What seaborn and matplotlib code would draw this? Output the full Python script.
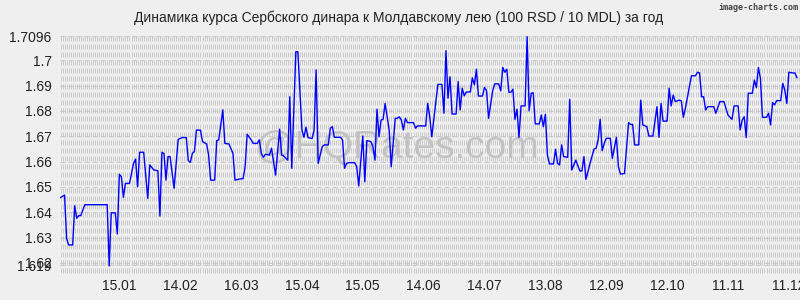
import numpy as np
import pandas as pd
import matplotlib
matplotlib.use("Agg")
import matplotlib.pyplot as plt
import matplotlib.dates as mdates
import seaborn as sns

# ---------------- data ----------------
title = "Динамика курса Сербского динара к Молдавскому лею (100 RSD / 10 MDL) за год"
start_date = "2022-12-17"
day_offsets = [
    0, 2, 3, 4, 6, 7, 8, 9, 10, 12, 23, 24, 25, 27, 28, 29, 30, 31, 32, 34,
    36, 37, 38, 39, 41, 43, 44, 46, 48, 49, 50, 51, 52, 53, 54, 56, 58, 60, 62, 63,
    64, 65, 66, 67, 69, 70, 72, 73, 74, 76, 77, 78, 80, 81, 83, 85, 86, 88, 90, 91,
    92, 94, 95, 97, 98, 99, 100, 101, 103, 104, 105, 106, 108, 109, 110, 112, 113, 114, 116, 117,
    119, 120, 121, 122, 124, 125, 126, 127, 129, 130, 132, 133, 134, 135, 138, 139, 140, 141, 142, 145,
    146, 147, 148, 149, 150, 151, 153, 154, 155, 156, 157, 158, 159, 160, 162, 163, 165, 166, 167, 168,
    169, 170, 171, 174, 175, 176, 180, 181, 182, 183, 186, 188, 189, 190, 191, 192, 193, 195, 196, 197,
    198, 199, 200, 202, 203, 204, 205, 206, 208, 209, 210, 211, 213, 214, 216, 217, 218, 219, 220, 221,
    222, 223, 224, 225, 226, 227, 229, 230, 231, 232, 233, 234, 236, 237, 238, 239, 240, 241, 243, 244,
    245, 246, 247, 248, 250, 251, 252, 253, 254, 256, 257, 258, 259, 261, 263, 264, 265, 266, 267, 268,
    269, 271, 272, 274, 275, 276, 278, 280, 281, 282, 283, 285, 286, 287, 289, 290, 292, 294, 295, 296,
    297, 299, 300, 301, 302, 303, 305, 306, 307, 308, 311, 313, 314, 315, 316, 317, 318, 319, 322, 323,
    325, 327, 328, 329, 331, 332, 334, 335, 336, 337, 338, 339, 341, 342, 343, 344, 345, 346, 348, 349,
    350, 351, 352, 353, 355, 356, 357, 358, 359, 361, 362, 363,
]
rates = [
    1.6458, 1.6468, 1.6297, 1.6271, 1.6271, 1.6426, 1.6376, 1.6387, 1.6387, 1.6430,
    1.6430, 1.6188, 1.6398, 1.6398, 1.6314, 1.6550, 1.6540, 1.6459, 1.6514, 1.6514,
    1.6593, 1.6610, 1.6501, 1.6637, 1.6637, 1.6455, 1.6587, 1.6567, 1.6564, 1.6385,
    1.6637, 1.6632, 1.6527, 1.6620, 1.6620, 1.6495, 1.6688, 1.6695, 1.6695, 1.6604,
    1.6597, 1.6633, 1.6640, 1.6725, 1.6724, 1.6679, 1.6670, 1.6626, 1.6527, 1.6527,
    1.6683, 1.6686, 1.6804, 1.6672, 1.6670, 1.6633, 1.6527, 1.6531, 1.6533, 1.6580,
    1.6708, 1.6686, 1.6672, 1.6672, 1.6686, 1.6633, 1.6617, 1.6629, 1.6626, 1.6653,
    1.6600, 1.6547, 1.6728, 1.6626, 1.6622, 1.6606, 1.6856, 1.6574, 1.7034, 1.7034,
    1.6725, 1.6696, 1.6736, 1.6695, 1.6691, 1.6725, 1.6962, 1.6593, 1.6659, 1.6666,
    1.6666, 1.6732, 1.6738, 1.6696, 1.6696, 1.6686, 1.6574, 1.6593, 1.6596, 1.6596,
    1.6580, 1.6504, 1.6600, 1.6701, 1.6521, 1.6683, 1.6679, 1.6659, 1.6606, 1.6807,
    1.6698, 1.6764, 1.6767, 1.6830, 1.6725, 1.6580, 1.6771, 1.6771, 1.6777, 1.6764,
    1.6725, 1.6771, 1.6754, 1.6754, 1.6732, 1.6741, 1.6741, 1.6830, 1.6777, 1.6698,
    1.6905, 1.6905, 1.6791, 1.7038, 1.6850, 1.6935, 1.6788, 1.6788, 1.6916, 1.6804,
    1.6890, 1.6860, 1.6875, 1.6875, 1.6931, 1.6903, 1.6965, 1.6859, 1.6859, 1.6893,
    1.6880, 1.6771, 1.6879, 1.6907, 1.6907, 1.6879, 1.6972, 1.6953, 1.6965, 1.6874,
    1.6874, 1.6886, 1.6767, 1.6807, 1.6696, 1.6820, 1.6820, 1.7093, 1.6801, 1.6870,
    1.6872, 1.6749, 1.6749, 1.6784, 1.6738, 1.6787, 1.6626, 1.6591, 1.6591, 1.6649,
    1.6593, 1.6587, 1.6666, 1.6620, 1.6617, 1.6846, 1.6567, 1.6587, 1.6606, 1.6563,
    1.6563, 1.6620, 1.6530, 1.6593, 1.6650, 1.6653, 1.6686, 1.6767, 1.6643, 1.6672,
    1.6692, 1.6692, 1.6613, 1.6696, 1.6580, 1.6551, 1.6553, 1.6754, 1.6747, 1.6747,
    1.6666, 1.6666, 1.6843, 1.6745, 1.6738, 1.6701, 1.6701, 1.6817, 1.6696, 1.6830,
    1.6760, 1.6760, 1.6890, 1.6820, 1.6863, 1.6837, 1.6843, 1.6840, 1.6775, 1.6811,
    1.6939, 1.6939, 1.6953, 1.6950, 1.6856, 1.6856, 1.6804, 1.6817, 1.6817, 1.6791,
    1.6837, 1.6837, 1.6811, 1.6784, 1.6767, 1.6820, 1.6820, 1.6725, 1.6764, 1.6777,
    1.6695, 1.6870, 1.6870, 1.6922, 1.6892, 1.6972, 1.6929, 1.6775, 1.6775, 1.6791,
    1.6745, 1.6833, 1.6824, 1.6841, 1.6841, 1.6909, 1.6883, 1.6830, 1.6953, 1.6950,
    1.6950, 1.6931,
]
x_tick_labels = ["15.01", "14.02", "16.03", "15.04", "15.05", "14.06",
                 "14.07", "13.08", "12.09", "12.10", "11.11", "11.12"]
x_tick_year = "2023"
y_ticks = [1.619, 1.62, 1.63, 1.64, 1.65, 1.66, 1.67, 1.68, 1.69, 1.70, 1.7096]
y_tick_labels = ["1.619", "1.62", "1.63", "1.64", "1.65", "1.66",
                 "1.67", "1.68", "1.69", "1.7", "1.7096"]
watermark = "@HQRates.com"
credit = "image-charts.com"

# ---------------- figure ----------------
sns.set_style("white")
plt.rcParams["font.family"] = ["Liberation Sans", "DejaVu Sans"]
plt.rcParams["lines.scale_dashes"] = False

BG = "#efefef"
W, H = 800, 300
fig = plt.figure(figsize=(W / 100, H / 100), dpi=100, facecolor=BG)
# axes: x 60..800 px, y 36..276 px
ax = fig.add_axes([60 / W, 1 - 276 / H, 740 / W, 240 / H], facecolor=BG)

start = pd.Timestamp(start_date)
df = pd.DataFrame({
    "date": start + pd.to_timedelta(day_offsets, unit="D"),
    "rate": rates,
})

sns.lineplot(data=df, x="date", y="rate", ax=ax, color="#0000ff",
             linewidth=1.0, zorder=5)

# axis ranges (pixel calibration: 1.7096 at top, 25.33 px per 0.01)
ax.set_ylim(1.7096 - 240 / 25330 * 10, 1.7096)
ax.set_xlim(start - pd.Timedelta(hours=6), start + pd.Timedelta(days=364.5))

tick_dates = pd.to_datetime([t + "." + x_tick_year for t in x_tick_labels], format="%d.%m.%Y")
ax.set_xticks(tick_dates)
ax.set_xticklabels(x_tick_labels)
ax.xaxis.set_minor_locator(mdates.DayLocator(interval=1))
ax.set_yticks(y_ticks)
ax.set_yticklabels(y_tick_labels)

ax.tick_params(axis="both", which="both", length=0, labelsize=10, colors="#222222")
ax.tick_params(axis="x", pad=2)
ax.tick_params(axis="y", pad=6)

# grid: dense dashed vertical lines (one per day) + dashed horizontal lines at y ticks
px = 0.72  # one pixel in points
ax.grid(True, which="minor", axis="x", color="#c6c6c6", linewidth=0.9 * px,
        linestyle=(5 * px, (5 * px, 3 * px)), zorder=0)
ax.grid(True, which="major", axis="x", color="#c6c6c6", linewidth=0.9 * px,
        linestyle=(5 * px, (5 * px, 3 * px)), zorder=0)
ax.grid(True, which="major", axis="y", color="#c8c8c8", linewidth=px,
        linestyle=(0, (5 * px, 3 * px)), zorder=0)
ax.set_axisbelow(True)

for s in ax.spines.values():
    s.set_visible(False)
ax.set_xlabel("")
ax.set_ylabel("")

# watermark
ax.text((397 - 60) / 740, (276 - 148) / 240, watermark, transform=ax.transAxes,
        ha="center", va="center", fontsize=28, color="#bdbdbd", alpha=0.85, zorder=2)

# title and credit
fig.text(399 / W, 1 - 18 / H, title, ha="center", va="center", fontsize=10, color="#222222")
fig.text(798 / W, 1 - 7 / H, credit, ha="right", va="center", fontsize=6,
         family="DejaVu Sans Mono", fontweight="bold", color="#444444")

fig.savefig("out.png", dpi=100, facecolor=BG)
